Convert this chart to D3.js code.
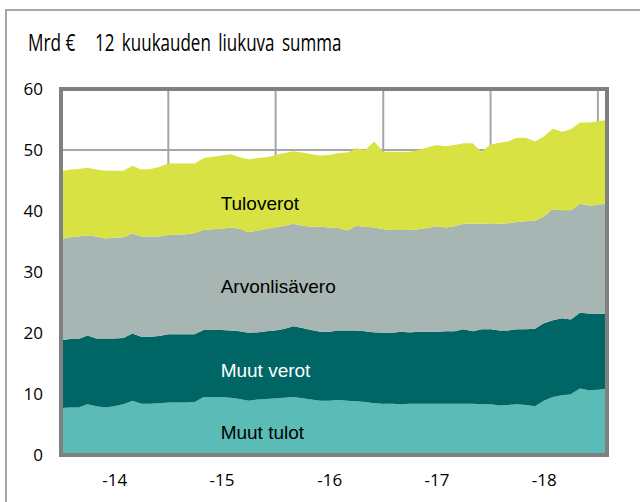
<!DOCTYPE html>
<html>
<head>
<meta charset="utf-8">
<script src="https://cdn.jsdelivr.net/npm/d3@7"></script>
<style>
  body { margin: 0; background: #fff; }
  svg { display: block; }
  .tick text { font-family: "Open Sans", "Liberation Sans", sans-serif; font-size: 17px; fill: #000; }
  .title { font-family: "Open Sans", "Liberation Sans", sans-serif; font-size: 23px; }
  .lbl { font-family: "Liberation Sans", Arial, sans-serif; font-size: 19px; }
</style>
</head>
<body>
<svg id="chart" width="640" height="502"></svg>
<script>
// Valtion tulot, 12 kuukauden liukuva summa, mrd €
const months = d3.utcMonth.range(new Date(Date.UTC(2014, 0, 1)), new Date(Date.UTC(2019, 2, 1)));

const muutTulot = [7.7, 7.8, 7.8, 8.3, 8.0, 7.8, 8.0, 8.3, 8.9, 8.4,
    8.4, 8.5, 8.6, 8.6, 8.6, 8.7, 9.5, 9.5, 9.5, 9.4,
    9.2, 8.9, 9.1, 9.2, 9.3, 9.4, 9.5, 9.3, 9.1, 8.9,
    8.9, 9.0, 8.9, 8.8, 8.7, 8.5, 8.4, 8.4, 8.3, 8.4,
    8.4, 8.4, 8.4, 8.4, 8.4, 8.4, 8.4, 8.3, 8.3, 8.1,
    8.2, 8.3, 8.2, 8.0, 8.9, 9.5, 9.8, 10.0, 10.9, 10.6,
    10.7, 10.9];
const muutVerot = [11.1, 11.2, 11.2, 11.3, 11.1, 11.3, 11.1, 10.9, 11.0, 11.0,
    11.0, 11.0, 11.2, 11.2, 11.2, 11.1, 11.0, 11.0, 11.0, 11.0,
    11.1, 11.1, 11.0, 11.1, 11.1, 11.3, 11.6, 11.5, 11.4, 11.3,
    11.3, 11.4, 11.5, 11.6, 11.6, 11.6, 11.6, 11.6, 11.9, 11.7,
    11.8, 11.8, 11.8, 11.9, 11.9, 12.2, 11.9, 12.3, 12.3, 12.3,
    12.2, 12.3, 12.4, 12.7, 12.7, 12.6, 12.6, 12.2, 12.4, 12.6,
    12.4, 12.3];
const arvonlisavero = [16.6, 16.7, 16.8, 16.4, 16.7, 16.4, 16.5, 16.5, 16.4, 16.4,
    16.4, 16.3, 16.3, 16.3, 16.4, 16.6, 16.4, 16.5, 16.6, 16.9,
    16.8, 16.5, 16.7, 16.8, 16.9, 16.9, 16.8, 16.8, 16.9, 17.2,
    17.1, 16.8, 16.4, 17.2, 17.1, 17.2, 17.0, 16.9, 16.7, 16.8,
    16.8, 17.0, 17.3, 17.0, 17.2, 17.3, 17.6, 17.3, 17.3, 17.5,
    17.6, 17.6, 17.7, 17.7, 17.5, 18.2, 17.7, 17.9, 17.9, 17.7,
    17.9, 18.1];
const tuloverot = [11.1, 11.1, 11.1, 11.1, 11.0, 11.1, 11.0, 10.9, 11.1, 11.0,
    11.1, 11.4, 11.7, 11.7, 11.6, 11.4, 11.8, 11.9, 12.0, 12.0,
    11.7, 12.0, 11.9, 11.7, 11.9, 11.9, 11.9, 12.0, 11.9, 11.7,
    11.9, 12.3, 12.8, 12.7, 12.6, 14.1, 12.7, 12.8, 12.8, 12.8,
    13.0, 13.2, 13.3, 13.3, 13.3, 13.2, 13.2, 11.8, 13.0, 13.3,
    13.4, 13.8, 13.7, 13.0, 13.1, 13.2, 12.9, 13.3, 13.3, 13.6,
    13.7, 13.6];

const seriesNames = ["Muut tulot", "Muut verot", "Arvonlisävero", "Tuloverot"];
const seriesValues = [muutTulot, muutVerot, arvonlisavero, tuloverot];
const colors = ["#5bbbb6", "#006565", "#a7b6b2", "#d8e243"];
const labelColors = ["#000", "#fff", "#000", "#000"];
// label anchor (value inside its band) for each series
const labelValues = [2.6, 12.8, 26.6, 40.2];

const yTicks = [0, 10, 20, 30, 40, 50, 60];
const yearStarts = [2015, 2016, 2017, 2018, 2019].map(y => new Date(Date.UTC(y, 0, 1)));
const yearMids = [2014, 2015, 2016, 2017, 2018].map(y => new Date(Date.UTC(y, 6, 1)));

const margin = { top: 89, right: 33, bottom: 47, left: 61 };
const width = 640, height = 502;
const innerWidth = width - margin.left - margin.right;
const innerHeight = height - margin.top - margin.bottom;

const table = months.map((m, i) => {
    const row = { date: m };
    seriesNames.forEach((n, k) => row[n] = seriesValues[k][i]);
    return row;
});

const stacked = d3.stack().keys(seriesNames)(table);

const x = d3.scaleUtc()
    .domain([months[0], months[months.length - 1]])
    .range([0, innerWidth]);

const y = d3.scaleLinear()
    .domain([0, 60])
    .range([innerHeight, 0]);

const svg = d3.select("#chart");

// outer frame of the figure (only left and top edges fall inside the picture)
svg.append("path")
    .attr("d", `M6,${height} V10 H${width}`)
    .attr("fill", "none")
    .attr("stroke", "#8c8c8c")
    .attr("stroke-width", 1.5);

// condensed title: squeeze the glyphs horizontally
svg.append("text")
    .attr("class", "title")
    .attr("transform", "translate(28,51) scale(0.75,1)")
    .text("Mrd €");
svg.append("text")
    .attr("class", "title")
    .attr("transform", "translate(95,51) scale(0.74,1)")
    .attr("word-spacing", "4px")
    .text("12 kuukauden liukuva summa");

const g = svg.append("g").attr("transform", `translate(${margin.left},${margin.top})`);

// grid
g.selectAll(".hgrid")
    .data(yTicks.slice(1))
    .enter()
    .append("line")
    .attr("x1", 0).attr("x2", innerWidth)
    .attr("y1", d => y(d)).attr("y2", d => y(d))
    .attr("stroke", "#a6a6a6")
    .attr("stroke-width", 2);

g.selectAll(".vgrid")
    .data(yearStarts)
    .enter()
    .append("line")
    .attr("x1", d => x(d)).attr("x2", d => x(d))
    .attr("y1", 0).attr("y2", innerHeight)
    .attr("stroke", "#a6a6a6")
    .attr("stroke-width", 2);

const area = d3.area()
    .x(d => x(d.data.date))
    .y0(d => y(d[0]))
    .y1(d => y(d[1]));

g.selectAll(".layer")
    .data(stacked)
    .enter()
    .append("path")
    .attr("d", area)
    .attr("fill", (d, i) => colors[i]);

// series labels
g.selectAll(".lbl")
    .data(seriesNames)
    .enter()
    .append("text")
    .attr("class", "lbl")
    .attr("x", x(new Date(Date.UTC(2015, 5, 28))))
    .attr("y", (d, i) => y(labelValues[i]))
    .attr("fill", (d, i) => labelColors[i])
    .text(d => d);

// plot frame
g.append("rect")
    .attr("x", 0).attr("y", 0)
    .attr("width", innerWidth).attr("height", innerHeight)
    .attr("fill", "none")
    .attr("stroke", "#808080")
    .attr("stroke-width", 4);

const yAxis = g.append("g")
    .call(d3.axisLeft(y).tickValues(yTicks).tickSize(0).tickPadding(18).tickFormat(d3.format("d")));
yAxis.select(".domain").remove();

const xAxis = g.append("g")
    .attr("transform", `translate(0,${innerHeight})`)
    .call(d3.axisBottom(x).tickValues(yearMids).tickSize(0).tickPadding(19).tickFormat(d3.utcFormat("-%y")));
xAxis.select(".domain").remove();
</script>
</body>
</html>
